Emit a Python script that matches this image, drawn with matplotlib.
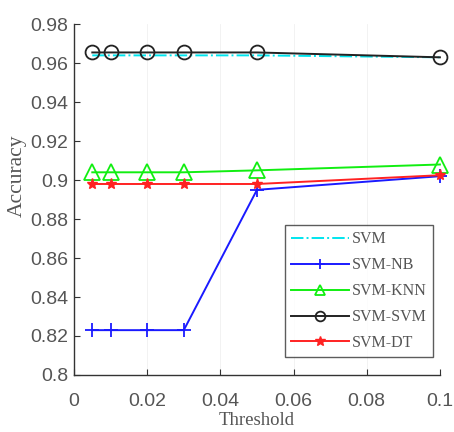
import matplotlib
matplotlib.use("Agg")
import matplotlib.pyplot as plt

thresholds = [0.005, 0.01, 0.02, 0.03, 0.05, 0.1]
svm = [0.964, 0.964, 0.964, 0.964, 0.964, 0.963]
svm_nb = [0.823, 0.823, 0.823, 0.823, 0.895, 0.902]
svm_knn = [0.904, 0.904, 0.904, 0.904, 0.905, 0.908]
svm_svm = [0.9655, 0.9655, 0.9655, 0.9655, 0.9655, 0.963]
svm_dt = [0.898, 0.898, 0.898, 0.898, 0.898, 0.9025]

xticks = [0, 0.02, 0.04, 0.06, 0.08, 0.1]
xtick_labels = ["0", "0.02", "0.04", "0.06", "0.08", "0.1"]
yticks = [0.8, 0.82, 0.84, 0.86, 0.88, 0.9, 0.92, 0.94, 0.96, 0.98]
ytick_labels = ["0.8", "0.82", "0.84", "0.86", "0.88", "0.9", "0.92", "0.94", "0.96", "0.98"]

fig = plt.figure(figsize=(4.54, 4.32), dpi=100)
ax = fig.add_axes([0.163, 0.132, 0.806, 0.812])

lw = 1.4
common = dict(lw=lw, clip_on=False)
ax.plot(thresholds, svm, color="#00e5ee", linestyle="-.", label="SVM", **common)
ax.plot(thresholds, svm_nb, color="#1a1aff", marker="+", markersize=10, mew=1.3,
        label="SVM-NB", **common)
ax.plot(thresholds, svm_knn, color="#11ee11", marker="^", markersize=11, mfc="none",
        mew=1.3, label="SVM-KNN", **common)
ax.plot(thresholds, svm_svm, color="#222222", marker="o", markersize=10, mfc="none",
        mew=1.3, label="SVM-SVM", **common)
ax.plot(thresholds, svm_dt, color="#ff2222", marker="*", markersize=8, label="SVM-DT",
        **common)

ax.set_xlim(0, 0.1)
ax.set_ylim(0.8, 0.98)
ax.set_xticks(xticks)
ax.set_xticklabels(xtick_labels)
ax.set_yticks(yticks)
ax.set_yticklabels(ytick_labels)

for s in ["top", "right"]:
    ax.spines[s].set_visible(False)
for s in ["left", "bottom"]:
    ax.spines[s].set_color("#333333")
    ax.spines[s].set_linewidth(1.0)

ax.tick_params(direction="in", length=4, color="#333333", labelcolor="#555555",
               labelsize=14)
for lab in ax.get_xticklabels() + ax.get_yticklabels():
    lab.set_family("Liberation Sans")
ax.tick_params(axis="x", pad=13)
ax.tick_params(axis="y", pad=4)

ax.grid(axis="x", color="#f0f0f0", lw=0.6)

ax.set_xlabel("Threshold", family="Liberation Serif", fontsize=13.5, color="#555555")
ax.xaxis.set_label_coords(0.5, -0.106)
ax.set_ylabel("Accuracy", family="Liberation Serif", fontsize=15.5, color="#555555")
ax.yaxis.set_label_coords(-0.13, 0.567)

leg = ax.legend(loc="lower right", bbox_to_anchor=(0.982, 0.05), frameon=True,
                fancybox=False, handlelength=3.6, handletextpad=0.2, labelspacing=0.62,
                borderpad=0.4, borderaxespad=0.0,
                prop={"family": "Liberation Serif", "size": 11.5})
leg.get_frame().set_edgecolor("#333333")
leg.get_frame().set_linewidth(1.0)
for t in leg.get_texts():
    t.set_color("#555555")
for h in leg.legend_handles:
    if h.get_marker() not in (None, "None", ""):
        h.set_markersize(7)

fig.savefig("out.png", dpi=100)
